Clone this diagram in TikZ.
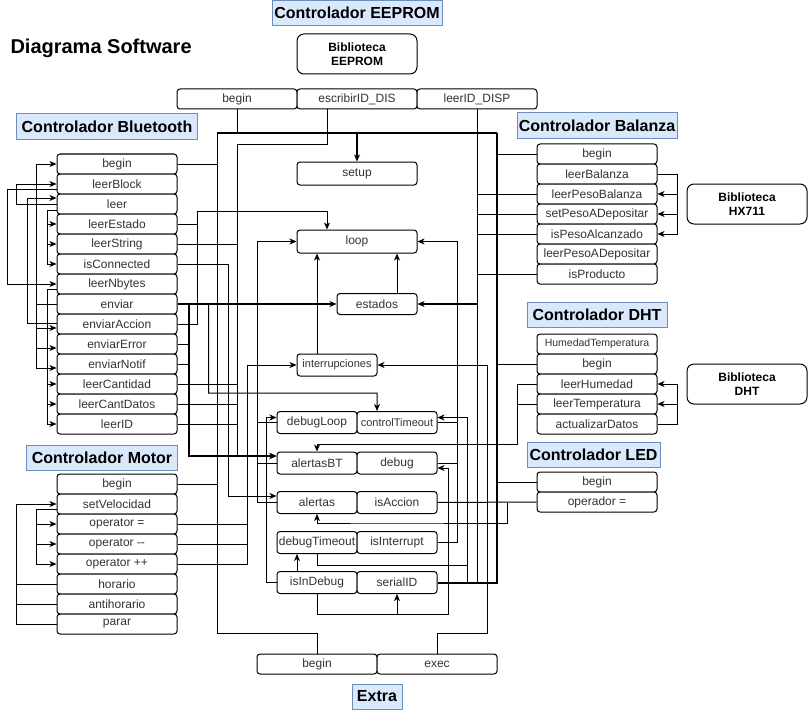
\documentclass[tikz,border=0pt]{standalone}
\usepackage{fontspec}
\setmainfont{Liberation Sans}
\usetikzlibrary{arrows.meta}

\definecolor{lblfill}{HTML}{DAE8FC}
\definecolor{lbldraw}{HTML}{6C8EBF}
\definecolor{txtcol}{HTML}{333333}

\begin{document}
\begin{tikzpicture}[x=1bp,y=-1bp,>={Stealth[length=7bp,width=6bp,inset=2bp]},line width=1bp,
  fn/.style={draw,rounded corners=3bp,fill=white,minimum width=120bp,minimum height=20bp,inner sep=0pt,text=txtcol,font=\fontsize{12bp}{14bp}\selectfont},
  fs/.style={fn,minimum width=80bp,minimum height=22bp},
  lib/.style={draw,rounded corners=7bp,minimum width=120bp,minimum height=40bp,align=center,font=\bfseries\fontsize{12bp}{14bp}\selectfont},
  ctl/.style={draw=lbldraw,fill=lblfill,minimum height=25bp,inner sep=0pt,font=\bfseries\fontsize{16bp}{18bp}\selectfont},
  bold/.style={line width=2bp}]
\useasboundingbox (0,0) rectangle (808,710);

% Title
\node[anchor=west,inner sep=0pt,font=\bfseries\fontsize{20bp}{22bp}\selectfont] (title) at (10,48) {Diagrama Software};

% Node: EEPROM
\node[ctl,minimum width=170bp] (c-eeprom) at (357,13) {Controlador EEPROM};
\node[lib] (lib-eeprom) at (357,54) {Biblioteca\\EEPROM};
\node[fn] (ee-begin) at (237,99) {begin};
\node[fn] (ee-escribir) at (357,99) {escribirID\_DIS};
\node[fn] (ee-leer) at (477,99) {leerID\_DISP};

% Node: Bluetooth
\node[ctl,minimum width=180bp] (c-bt) at (107,126.5) {Controlador Bluetooth};
\node[fn] (bt-begin) at (117,164) {begin};
\node[fn] (bt-leerBlock) at (117,184) {leerBlock};
\node[fn] (bt-leer) at (117,204) {leer};
\node[fn] (bt-leerEstado) at (117,224) {leerEstado};
\node[fn] (bt-leerString) at (117,244) {leerString};
\node[fn] (bt-isConnected) at (117,264) {isConnected};
\node[fn] (bt-leerNbytes) at (117,284) {leerNbytes};
\node[fn] (bt-enviar) at (117,304) {enviar};
\node[fn] (bt-enviarAccion) at (117,324) {enviarAccion};
\node[fn] (bt-enviarError) at (117,344) {enviarError};
\node[fn] (bt-enviarNotif) at (117,364) {enviarNotif};
\node[fn] (bt-leerCantidad) at (117,384) {leerCantidad};
\node[fn] (bt-leerCantDatos) at (117,404) {leerCantDatos};
\node[fn] (bt-leerID) at (117,424) {leerID};

% Node: Motor
\node[ctl,minimum width=150bp] (c-motor) at (102,457.5) {Controlador Motor};
\node[fn] (mot-begin) at (117,484) {begin};
\node[fn] (mot-setVel) at (117,504) {setVelocidad};
\node[fn] (mot-opEq) at (117,524) {operator =};
\node[fn] (mot-opMinus) at (117,544) {operator -{}-};
\node[fn] (mot-opPlus) at (117,564) {operator ++};
\node[fn] (mot-horario) at (117,584) {horario};
\node[fn] (mot-antihorario) at (117,604) {antihorario};
\node[fn] (mot-parar) at (117,624) {parar};

% Node: Balanza
\node[ctl,minimum width=160bp] (c-bal) at (597,125.5) {Controlador Balanza};
\node[fn] (bal-begin) at (597,154) {begin};
\node[fn] (bal-leerBalanza) at (597,174) {leerBalanza};
\node[fn] (bal-leerPesoBalanza) at (597,194) {leerPesoBalanza};
\node[fn] (bal-setPeso) at (597,214) {setPesoADepositar};
\node[fn] (bal-isPesoAlc) at (597,234) {isPesoAlcanzado};
\node[fn] (bal-leerPesoADep) at (597,254) {leerPesoADepositar};
\node[fn] (bal-isProducto) at (597,274) {isProducto};
\node[lib] (lib-hx) at (747,204) {Biblioteca\\HX711};

% Node: DHT
\node[ctl,minimum width=140bp] (c-dht) at (597,314.5) {Controlador DHT};
\node[fn,font=\fontsize{10.5bp}{12bp}\selectfont] (dht-humTemp) at (597,344) {HumedadTemperatura};
\node[fn] (dht-begin) at (597,364) {begin};
\node[fn] (dht-leerHumedad) at (597,384) {leerHumedad};
\node[fn] (dht-leerTemp) at (597,404) {leerTemperatura};
\node[fn] (dht-actualizar) at (597,424) {actualizarDatos};
\node[lib] (lib-dht) at (747,384) {Biblioteca\\DHT};

% Node: LED
\node[ctl,minimum width=133bp] (c-led) at (593.5,454.5) {Controlador LED};
\node[fn] (led-begin) at (597,482) {begin};
\node[fn] (led-op) at (597,502) {operador =};

% Node: principal
\node[fn,minimum height=23bp] (setup) at (357,173.5) {setup};
\node[fn,minimum height=23bp] (loop) at (357,241.5) {loop};
\node[fs,minimum height=21bp] (estados) at (377,304) {estados};
\node[fs,font=\fontsize{11bp}{13bp}\selectfont] (interrupciones) at (337,365) {interrupciones};
\node[fs] (debugLoop) at (317,422.5) {debugLoop};
\node[fs,font=\fontsize{11bp}{13bp}\selectfont] (controlTimeout) at (397,422.5) {controlTimeout};
\node[fs] (alertasBT) at (317,463) {alertasBT};
\node[fs] (debug) at (397,463) {debug};
\node[fs] (alertas) at (317,502.5) {alertas};
\node[fs] (isAccion) at (397,502.5) {isAccion};
\node[fs] (debugTimeout) at (317,542.5) {debugTimeout};
\node[fs] (isInterrupt) at (397,542.5) {isInterrupt};
\node[fs] (isInDebug) at (317,582.5) {isInDebug};
\node[fs] (serialID) at (397,582.5) {serialID};

% Node: Extra
\node[fn] (ex-begin) at (317,664) {begin};
\node[fn] (ex-exec) at (437,664) {exec};
\node[ctl,minimum width=50bp] (c-extra) at (377,696.5) {Extra};

% Edge: setup -> begin
\coordinate (sb-l) at (217,133);
\coordinate (sb-r) at (497,133);
\draw[bold] (sb-l) -- (sb-r);
\draw[bold,->] (setup.north |- sb-l) -- (setup.north);
\draw (ee-begin.south) -- (ee-begin.south |- sb-l);
\draw (bt-begin.east) -| (sb-l);
\draw (mot-begin.east) -| (sb-l);
\draw (ex-begin.north) |- (217,633) -- (sb-l);
\draw[bold] (sb-r) |- (serialID.east);
\draw (bal-begin.west) -- (bal-begin.west -| sb-r);
\draw (dht-begin.west) -- (dht-begin.west -| sb-r);
\draw (led-begin.west) -- (led-begin.west -| sb-r);

% Edge: estados
\draw (ee-leer.south) |- (serialID.east);
\draw (bal-leerPesoBalanza.west) -- (bal-leerPesoBalanza.west -| ee-leer.south);
\draw (bal-setPeso.west) -- (bal-setPeso.west -| ee-leer.south);
\draw (bal-isPesoAlc.west) -- (bal-isPesoAlc.west -| ee-leer.south);
\draw (bal-isProducto.west) -- (bal-isProducto.west -| ee-leer.south);
\draw[bold,->] (estados.east -| ee-leer.south) -- (estados.east);
\draw[bold,->] (bt-enviar.east) -- (estados.west);

% Edge: loop
\coordinate (lr) at (457,241.5);
\coordinate (ll) at (257,241.5);
\coordinate (lt) at (197,211);
\draw[->] (isInterrupt.east) -| (lr) -- (loop.east);
\draw (debug.east) -- (debug.east -| lr);
\draw (controlTimeout.east) -- (controlTimeout.east -| lr);
\draw[->] (alertas.west) -| (ll) -- (loop.west);
\draw (alertasBT.west) -- (alertasBT.west -| ll);
\draw (debugLoop.west) -- (debugLoop.west -| ll);
\draw[->] (bt-leerEstado.east) -| (lt) -| ([xshift=-30bp]loop.north);
\draw (bt-enviarAccion.east) -| (lt);
\draw[->] (interrupciones.north -| alertasBT.north) -- (loop.south -| alertasBT.north);
\draw[->] ([xshift=20bp]estados.north) -- ([xshift=20bp]estados.north |- loop.south);

% Edge: Bluetooth -> principal
\draw[bold,->] (bt-enviar.east) ++(11,0) |- ([yshift=7bp]alertasBT.west);
\draw (bt-enviarError.east) -- ++(11,0);
\draw (bt-enviarNotif.east) -- ++(11,0);
\draw[->] (bt-enviar.east) ++(31,0) |- (377,393) -- ([xshift=-20bp]controlTimeout.north);
\draw[->] (bt-isConnected.east) -- ++(51,0) |- ([yshift=6.5bp]alertas.west);
\draw[->] ([xshift=-30bp]ee-escribir.south) |- (237,145) |- ([yshift=7bp]alertasBT.west);
\draw (bt-leerString.east) -- ++(60,0);
\draw (bt-leerCantidad.east) -- ++(60,0);
\draw (bt-leerCantDatos.east) -- ++(60,0);
\draw (bt-leerID.east) -- ++(60,0);

% Edge: Motor -> interrupciones
\draw[->] (mot-opPlus.east) -- ++(70,0) |- (interrupciones.west);
\draw (mot-opEq.east) -- ++(70,0);
\draw (mot-opMinus.east) -- ++(70,0);

% Edge: debug
\draw[->] (isInDebug.west) -- ++(-10,0) |- ([yshift=5bp]debugLoop.west);
\draw[->] ([xshift=-20bp]isInDebug.north) -- ([xshift=-20bp]debugTimeout.south);
\draw[->] (debugTimeout.south) |- (467,565) |- ([yshift=5bp]controlTimeout.east);
\draw (467,565) |- (serialID.east);
\draw[->] (isInDebug.south) |- (448,614) |- ([yshift=-5bp]debug.east);
\draw[->] (serialID.south |- 448,614) -- (serialID.south);
\draw[->] (ex-exec.north) |- (487,633) |- (interrupciones.east);

% Edge: LED, DHT -> alertas
\draw (isAccion.east) -- (led-op.west);
\draw[->] (507,502.5) |- (382,523) -| (alertas.south);
\draw[->] (dht-leerHumedad.west) -| (517,444) -| (alertasBT.north);
\draw (dht-leerTemp.west) -- ++(-20,0);

% Edge: Balanza, DHT internal
\draw[->] (bal-leerBalanza.east) -- ++(20,0) |- (bal-isPesoAlc.east);
\draw[->] (bal-leerBalanza.east) ++(20,0) |- (bal-leerPesoBalanza.east);
\draw[->] (bal-leerBalanza.east) ++(20,0) |- (bal-setPeso.east);
\draw[->] (dht-actualizar.east) -- ++(20,0) |- (dht-leerHumedad.east);
\draw[->] (dht-actualizar.east) ++(20,0) |- (dht-leerTemp.east);

% Edge: Bluetooth internal
\draw[->] (bt-enviar.west) -- ++(-20,0) |- (bt-begin.west);
\draw[->] (bt-enviar.west) ++(-20,0) |- ([yshift=-4bp]bt-enviarAccion.west);
\draw[->] (bt-enviar.west) ++(-20,0) |- ([yshift=-4bp]bt-enviarError.west);
\draw[->] (bt-enviar.west) ++(-20,0) |- ([yshift=-4bp]bt-enviarNotif.west);
\draw[->] (bt-leer.west) -- ++(-40,0) |- (bt-leerBlock.west);
\draw[->] ([yshift=-5bp]bt-leerBlock.west) -- ++(-49,0) |- (bt-leerNbytes.west);
\draw[->] ([yshift=1bp]bt-enviarAccion.west) -- ++(-29,0) |- ([yshift=6bp]bt-leer.west);
\draw[->] ([yshift=-6bp]bt-leer.west) -- ++(-9,0) |- (bt-leerEstado.west);
\draw[->] ([yshift=-6bp]bt-leer.west) ++(-9,0) |- (bt-leerString.west);
\draw[->] ([yshift=-6bp]bt-leer.west) ++(-9,0) |- (bt-isConnected.west);
\draw[->] ([yshift=-5bp]bt-leerNbytes.west) -- ++(-9,0) |- (bt-leerCantidad.west);
\draw[->] ([yshift=-5bp]bt-leerNbytes.west) ++(-9,0) |- (bt-leerCantDatos.west);
\draw[->] ([yshift=-5bp]bt-leerNbytes.west) ++(-9,0) |- (bt-leerID.west);

% Edge: Motor internal
\draw[->] (mot-parar.west) -- ++(-40,0) |- (mot-setVel.west);
\draw (mot-horario.west) -- ++(-40,0);
\draw (mot-antihorario.west) -- ++(-40,0);
\draw[->] ([yshift=-5bp]mot-setVel.west) -- ++(-20,0) |- (mot-opEq.west);
\draw[->] ([yshift=-5bp]mot-setVel.west) ++(-20,0) |- (mot-opMinus.west);
\draw[->] ([yshift=-5bp]mot-setVel.west) ++(-20,0) |- (mot-opPlus.west);
%
\end{tikzpicture}
\end{document}
